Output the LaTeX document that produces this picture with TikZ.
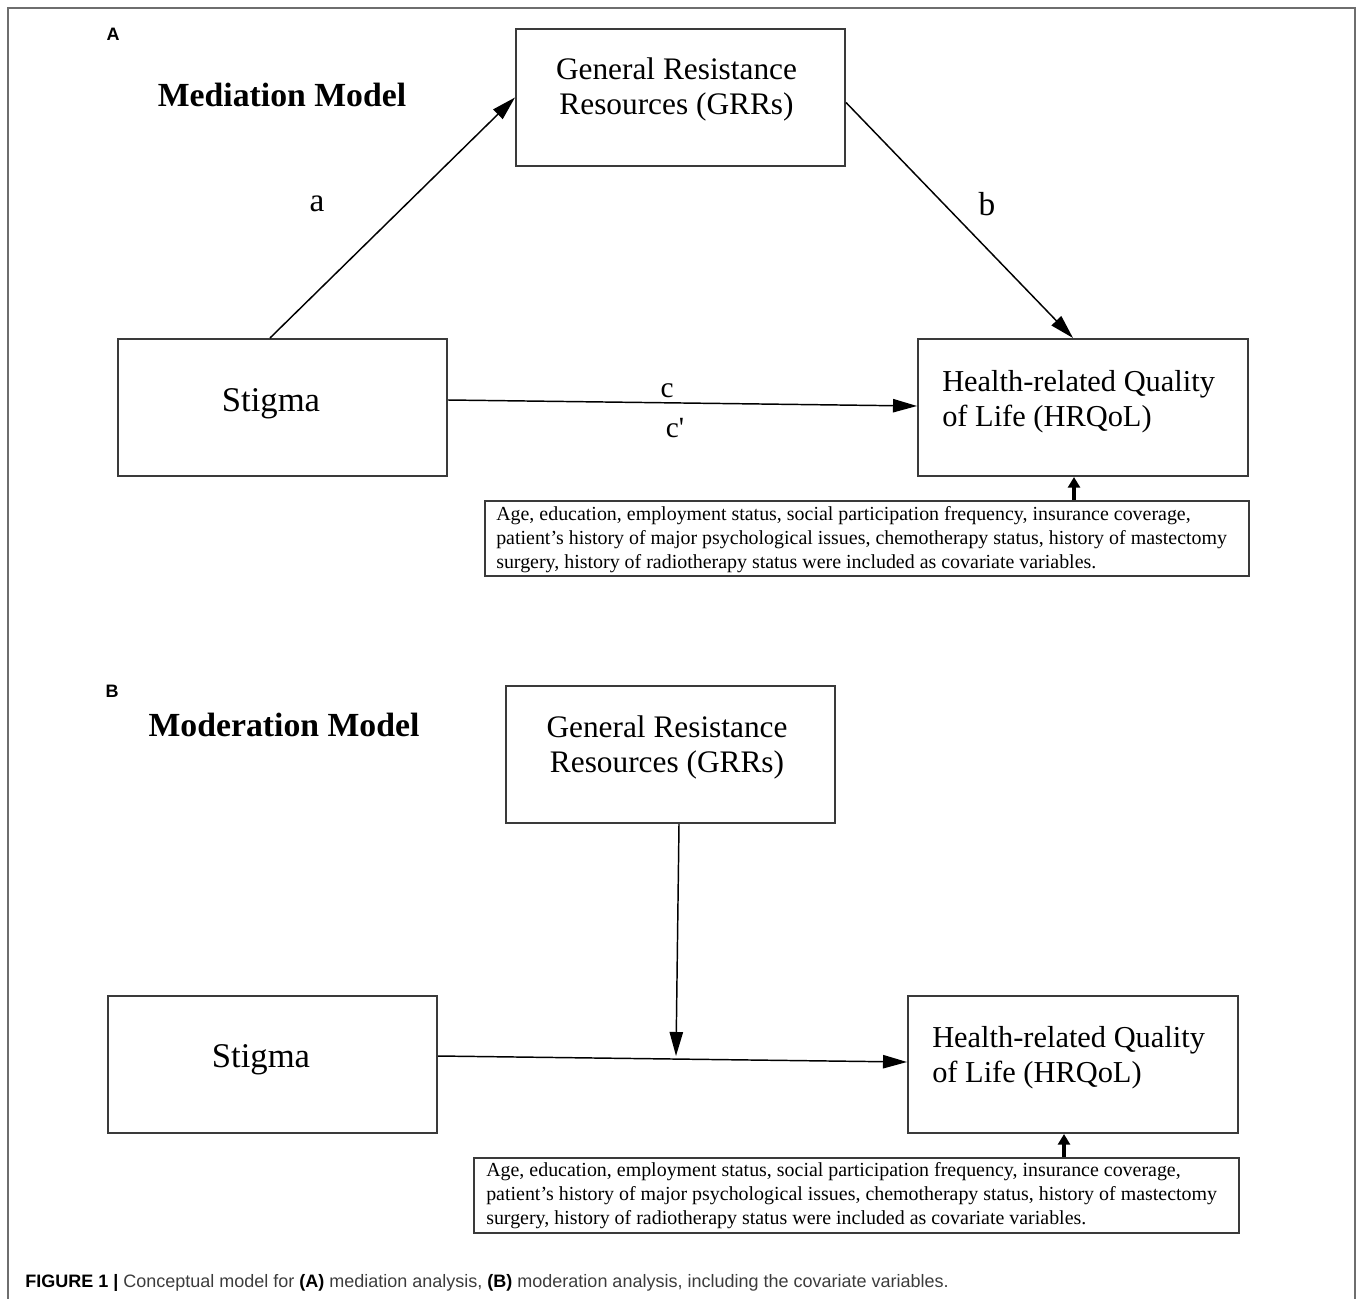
\documentclass[tikz,border=0pt]{standalone}
\usepackage{fontspec}
\setmainfont{Liberation Serif}
\setsansfont{Liberation Sans}
\usetikzlibrary{arrows.meta,calc}
\definecolor{boxline}{HTML}{3A3A3A}
\definecolor{framecol}{HTML}{6E6E6E}
\definecolor{captext}{HTML}{3C3C3C}
\tikzset{
  varbox/.style={draw=boxline,line width=1.5pt,minimum width=329*0.75pt,minimum height=137*0.75pt,inner sep=0pt},
  covbox/.style={draw=boxline,line width=1.5pt,minimum width=764*0.75pt,minimum height=75*0.75pt,inner sep=0pt},
  boxtext/.style={font=\fontsize{23.5pt}{26.25pt}\selectfont,inner sep=0pt},
  hrtext/.style={font=\fontsize{22.8pt}{26.25pt}\selectfont,inner sep=0pt},
  stigtext/.style={font=\fontsize{26pt}{30pt}\selectfont,inner sep=0pt,anchor=base},
  covtext/.style={font=\fontsize{14.95pt}{18pt}\selectfont,inner sep=0pt,align=left,anchor=base west},
  arr/.style={line width=1.1pt,-{Triangle[length=18pt,width=10pt]}},
  covarr/.style={line width=3pt,-{Triangle[length=8pt,width=9pt]}},
  pathlabel/.style={font=\fontsize{25pt}{28pt}\selectfont,inner sep=0pt,anchor=base},
  panel/.style={font=\sffamily\bfseries\fontsize{13.5pt}{15pt}\selectfont,inner sep=0pt},
  modeltitle/.style={font=\bfseries\fontsize{25.3pt}{28pt}\selectfont,inner sep=0pt,anchor=base}
}
\begin{document}
\begin{tikzpicture}[x=0.75pt,y=-0.75pt]
\useasboundingbox (0,0) rectangle (1358,1298);
% outer frame (open at the bottom)
\draw[framecol,line width=1.2pt] (8,1300) -- (8,8) -- (1355,8) -- (1355,1300);

% ---------------- Panel A ----------------
\node[panel] (pA) at (113,34) {A};
\node[modeltitle] (tA) at (282,107) {Mediation Model};
\node[varbox] (ga) at (680.5,97.5) {};
\node[varbox] (sa) at (282.5,407.5) {};
\node[varbox,minimum width=330*0.75pt] (ha) at (1083,407.5) {};
\node[covbox] (ca) at (867,538.5) {};
\node[boxtext,anchor=base,align=center] (gat) at (676.5,115) {General Resistance\\Resources (GRRs)};
\node[stigtext] (sat) at (271,411) {Stigma};
\node[hrtext,anchor=base west,align=left] (hat) at (942,426) {Health-related Quality\\of Life (HRQoL)};
\node[covtext] (cat) at (496,568) {Age, education, employment status, social participation frequency, insurance coverage,\\patient's history of major psychological issues, chemotherapy status, history of mastectomy\\surgery, history of radiotherapy status were included as covariate variables.};

\draw[arr] ($(sa.north)+(-12.5,0)$) -- (ga.west);
\draw[arr] ($(ga.east)+(0,5)$) -- ($(ha.north)+(-10,0)$);
\draw[arr] ($(sa.east)+(0,-7.5)$) -- ($(ha.west)+(0,-1.5)$);
\coordinate (hcA) at ($(ha.south)+(-9,0)$);
\draw[covarr] (ca.north -| hcA) -- (hcA);
\node[pathlabel] (la) at (317,212) {a};
\node[pathlabel] (lb) at (987,215) {b};
\node[pathlabel,font=\fontsize{22pt}{26pt}\selectfont] (lc) at (667,397) {c};
\node[pathlabel,font=\fontsize{22pt}{26pt}\selectfont] (lc2) at (675,437) {c\textquotesingle};

% ---------------- Panel B ----------------
\node[panel] (pB) at (112,691) {B};
\node[modeltitle] (tB) at (284,736.5) {Moderation Model};
\node[varbox] (gb) at (670.5,754.5) {};
\node[varbox] (sb) at (272.5,1064.5) {};
\node[varbox,minimum width=330*0.75pt] (hb) at (1073,1064.5) {};
\node[covbox,minimum width=765*0.75pt] (cb) at (856.5,1195.5) {};
\node[boxtext,anchor=base,align=center] (gbt) at (667,772) {General Resistance\\Resources (GRRs)};
\node[stigtext] (sbt) at (261,1067) {Stigma};
\node[hrtext,anchor=base west,align=left] (hbt) at (932,1082) {Health-related Quality\\of Life (HRQoL)};
\node[covtext] (cbt) at (486,1224) {Age, education, employment status, social participation frequency, insurance coverage,\\patient's history of major psychological issues, chemotherapy status, history of mastectomy\\surgery, history of radiotherapy status were included as covariate variables.};

\draw[arr] ($(sb.east)+(0,-8.5)$) -- ($(hb.west)+(0,-2.5)$);
\coordinate (modpt) at (676,1056);
\draw[arr] ($(gb.south)+(8.5,0)$) -- (modpt);
\coordinate (hcB) at ($(hb.south)+(-9,0)$);
\draw[covarr] (cb.north -| hcB) -- (hcB);

% ---------------- Caption ----------------
\node[inner sep=0pt,anchor=base west,font=\sffamily\fontsize{13.5pt}{16pt}\selectfont,text=captext] (cap) at (25,1287)
  {\textbf{\color{black}FIGURE 1 |} Conceptual model for \textbf{\color{black}(A)} mediation analysis, \textbf{\color{black}(B)} moderation analysis, including the covariate variables.};
\end{tikzpicture}
\end{document}
